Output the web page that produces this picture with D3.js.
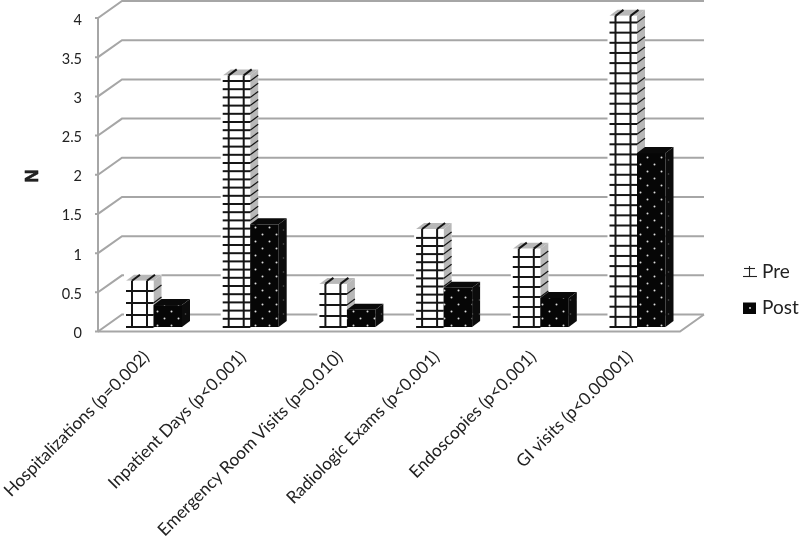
<!DOCTYPE html>
<html><head><meta charset="utf-8">
<style>html,body{margin:0;padding:0;background:#fff}svg{display:block;filter:blur(0.4px)}text{font-family:Lato,"Open Sans",sans-serif;fill:#222}</style>
<script src="https://cdn.jsdelivr.net/npm/d3@7/dist/d3.min.js"></script>
</head><body><svg id="c" width="800" height="541"></svg>
<script>
const categories = ["Hospitalizations (p=0.002)","Inpatient Days (p<0.001)","Emergency Room Visits (p=0.010)","Radiologic Exams (p<0.001)","Endoscopies (p<0.001)","GI visits (p<0.00001)"];
const preValues = [0.59,3.21,0.55,1.25,1.0,3.97];
const postValues = [0.28,1.31,0.22,0.50,0.37,2.22];
const yTicks = [0,0.5,1,1.5,2,2.5,3,3.5,4];
const tickLabels = ["0","0.5","1","1.5","2","2.5","3","3.5","4"];
const legendLabels = ["Pre","Post"];

const svg = d3.select("#c");
const gridCol = "#a6a6a6";
const hatchGaps = [12,8.2,11,8.1,10,10.15];
const y = d3.scaleLinear().domain([0,4]).range([331.5,18]);
const x = d3.scaleBand().domain(categories).range([114,694.2]);
const wallDx = 24, wallDy = -17;
const axisX = 98, floorRight = 680;
const barBaseOffset = -4.5, depthX = 8, depthY = -6, preW = 27.5, postW = 28.5;

// patterns
const defs = svg.append("defs");
const dots = defs.append("pattern").attr("id","dots").attr("patternUnits","userSpaceOnUse").attr("width",14).attr("height",14);
dots.append("rect").attr("width",14).attr("height",14).attr("fill","#060606");
[[3.5,3.5],[10.5,10.5]].forEach(p=>dots.append("circle").attr("cx",p[0]).attr("cy",p[1]).attr("r",1).attr("fill","#ddd"));
const dim = defs.append("pattern").attr("id","dim").attr("patternUnits","userSpaceOnUse").attr("width",7).attr("height",14);
dim.append("rect").attr("width",7).attr("height",14).attr("fill","#0c0c0c");
dim.append("circle").attr("cx",3.5).attr("cy",6).attr("r",0.8).attr("fill","#555");

// walls
const grid = svg.append("g").attr("fill","none").attr("stroke",gridCol).attr("stroke-width",2);
yTicks.forEach(t=>{
  grid.append("polyline").attr("points",`${axisX-3},${y(t)} ${axisX},${y(t)} ${axisX+wallDx},${y(t)+wallDy} ${floorRight+wallDx},${y(t)+wallDy}`);
});
grid.append("line").attr("x1",axisX).attr("x2",axisX).attr("y1",y(4)).attr("y2",y(0));
grid.append("polyline").attr("points",`${axisX},${y(0)} ${floorRight},${y(0)} ${floorRight+wallDx},${y(0)+wallDy}`);

// tick labels
svg.append("g").selectAll("text").data(yTicks).join("text")
  .attr("x",82).attr("y",d=>y(d)+6.5).attr("text-anchor","end").attr("font-size",14.5).text((d,i)=>tickLabels[i]);

// bars
function bar(g,x0,w,v,kind,gap){
  const yb = y(0)+barBaseOffset, yt = y(v)+barBaseOffset;
  const top = `${x0},${yt} ${x0+depthX},${yt+depthY} ${x0+w+depthX},${yt+depthY} ${x0+w},${yt}`;
  const side = `${x0+w},${yt} ${x0+w+depthX},${yt+depthY} ${x0+w+depthX},${yb+depthY} ${x0+w},${yb}`;
  if(kind==="post"){
    g.append("polygon").attr("points",top).attr("fill","#0a0a0a");
    g.append("polygon").attr("points",side).attr("fill","url(#dim)");
    g.append("rect").attr("x",x0).attr("y",yt).attr("width",w).attr("height",yb-yt).attr("fill","url(#dots)");
    return;
  }
  g.append("rect").attr("x",x0-2).attr("y",yt+depthY-1).attr("width",w+depthX+2).attr("height",yb-yt-depthY+2).attr("fill","#fff");
  g.append("polygon").attr("points",top).attr("fill","#b8b8b8");
  g.append("polygon").attr("points",side).attr("fill","#b8b8b8");
  g.append("rect").attr("x",x0).attr("y",yt).attr("width",w).attr("height",yb-yt).attr("fill","#fff");
  const l = g.append("g").attr("stroke","#151515").attr("stroke-width",2).attr("fill","none");
  [x0+6,x0+21].forEach(px=>{
    l.append("line").attr("x1",px).attr("x2",px).attr("y1",yt).attr("y2",yb);
    l.append("line").attr("x1",px).attr("x2",px+depthX).attr("y1",yt).attr("y2",yt+depthY);
  });
  for(let py=yb;py>=yt+3;py-=gap){
    l.append("line").attr("x1",x0).attr("x2",x0+w).attr("y1",py).attr("y2",py);
    l.append("line").attr("x1",x0+w).attr("x2",x0+w+depthX).attr("y1",py).attr("y2",py+depthY).attr("stroke-width",1.2);
  }
}
const bars = svg.append("g");
categories.forEach((c,i)=>{
  const x0 = x(c)+12;
  const g = bars.append("g");
  bar(g,x0,preW,preValues[i],"pre",hatchGaps[i]);
  bar(g,x0+preW,postW,postValues[i],"post");
});

// category labels
svg.append("g").selectAll("text").data(categories).join("text")
  .attr("text-anchor","end").attr("font-size",17.2)
  .attr("transform",d=>`translate(${x(d)+x.bandwidth()/2-12},${358}) rotate(-45)`)
  .text(d=>d);

// axis title
svg.append("text").attr("transform","translate(38,176) rotate(-90)").attr("text-anchor","middle")
  .attr("font-size",18).attr("font-weight",700).attr("stroke","#111").attr("stroke-width",0.6)
  .style("font-family","'Liberation Sans'").text("N");

// legend
const lg = svg.append("g");
legendLabels.forEach((t,i)=>{
  const ly = 272+i*36;
  lg.append("text").attr("x",762).attr("y",ly+6).attr("font-size",19).text(t);
  if(i===0){
    const s = lg.append("g").attr("stroke","#222").attr("stroke-width",1.1).attr("fill","none");
    s.append("line").attr("x1",744).attr("x2",755).attr("y1",ly-3.5).attr("y2",ly-3.5);
    s.append("line").attr("x1",743).attr("x2",757).attr("y1",ly+4.5).attr("y2",ly+4.5);
    s.append("line").attr("x1",749.5).attr("x2",749.5).attr("y1",ly-6).attr("y2",ly+4.5);
  } else {
    lg.append("rect").attr("x",743).attr("y",ly-5.5).attr("width",13).attr("height",11.5).attr("fill","#060606");
    lg.append("circle").attr("cx",750).attr("cy",ly).attr("r",1).attr("fill","#ddd");
  }
});
</script></body></html>
